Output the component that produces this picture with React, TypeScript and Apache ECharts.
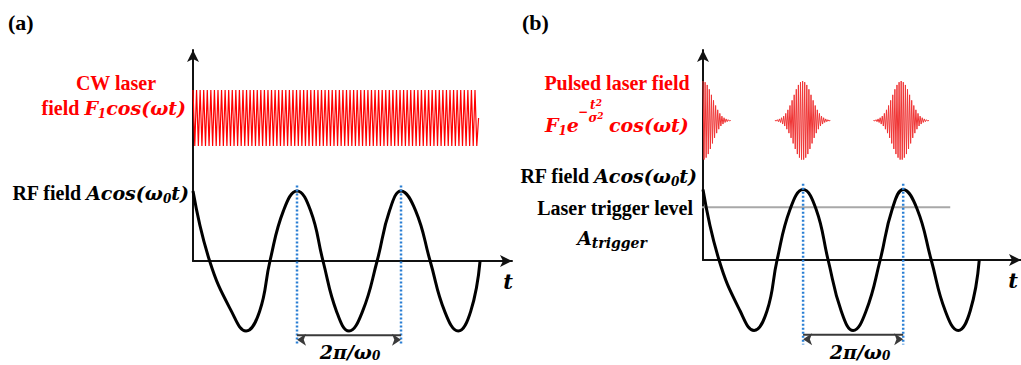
import React, { useEffect, useRef } from 'react';
import * as echarts from 'echarts';

// RF field A·cos(ω0 t): points (time in RF periods, value in units of A)
const rfTimes = [
  0, 0.16, 0.37, 0.51, 0.64, 0.74, 0.87, 1.0, 1.13, 1.25, 1.38, 1.5, 1.63,
  1.77, 1.89, 2.0, 2.14, 2.28, 2.42, 2.55, 2.67, 2.76,
];
const rfValues = [
  1, 0, -0.72, -1, -0.72, 0, 0.72, 1, 0.72, 0, -0.72, -1, -0.72,
  0, 0.72, 1, 0.72, 0, -0.72, -1, -0.72, 0,
];

// CW laser field: one extremum per half optical cycle, ending back at zero
const cwField = [
  1, -1, 1, -1, 1, -1, 1, -1, 1, -1, 1, -1, 1, -1, 1, -1, 1, -1, 1, -1,
  1, -1, 1, -1, 1, -1, 1, -1, 1, -1, 1, -1, 1, -1, 1, -1, 1, -1, 1, -1,
  1, -1, 1, -1, 1, -1, 1, -1, 1, -1, 1, -1, 1, -1, 1, -1, 1, -1, 1, -1,
  1, -1, 1, -1, 1, -1, 1, -1, 1, -1, 1, -1, 1, -1, 1, -1, 1, -1, 1, -1,
  1, -1, 1, -1, 1, -1, 1, -1, 1, -1, 1, -1, 1, -1, 1, -1, 1, -1, 1, -1,
  1, -1, 1, -1, 1, -1, 1, -1, 1, -1, 1, -1, 1, -1, 1, -1, 1, -1, 1, -1,
  1, -1, 1, -1, 1, -1, 1, -1, 1, -1, 1, -1, 1, -1, 1, -1, 1, -1, 1, -1,
  1, -1, 1, -1, 1, -1, 1, -1, 1, -1, 1, -1, 1, -1, 1, -1, 1, -1, 1, -1,
  0,
];
const cwHalfCycle = 0.01716; // RF periods per half optical cycle

// Pulsed laser field: envelope per half optical cycle, from the peak outward
const pulseEnvelope = [
  1.0, 0.99, 0.97, 0.94, 0.9, 0.85, 0.79, 0.72, 0.65, 0.58, 0.51, 0.44, 0.38,
  0.32, 0.27, 0.22, 0.18, 0.14, 0.11, 0.09, 0.07, 0.05, 0.04, 0.03, 0.02, 0.01,
];
const pulseCenters = [0, 0.995, 1.98];
const pulseHalfCycle = 0.0105;
const pulseTail = 0.277;

// Period markers, dimension arrow and trigger level
const periodMarks = [1, 2];
const markTop = 1.08;
const markBottom = -1.2;
const arrowLevel = -1.06;
const triggerLevel = 0.75;
const triggerSpan = [-0.05, 2.47];

const TEXT_FONT = 'Liberation Serif, Times New Roman, serif';
const MATH_FONT = 'DejaVu Serif, serif';
const RED = '#ff0000';
const BLACK = '#000000';

function richStyles(color: string) {
  const math = { fontFamily: MATH_FONT, fontWeight: 'bold', fontStyle: 'italic', fill: color };
  return {
    t: { fontFamily: TEXT_FONT, fontWeight: 'bold', fontSize: 20, fill: color, lineHeight: 24 },
    m: { ...math, fontSize: 19, lineHeight: 24 },
    s: { ...math, fontSize: 12, lineHeight: 12, verticalAlign: 'bottom' },
    q: { ...math, fontSize: 14, lineHeight: 14, verticalAlign: 'bottom' },
    p: { ...math, fontSize: 9, lineHeight: 9, verticalAlign: 'top' },
    e: { ...math, fontSize: 12, lineHeight: 13 },
    v: { ...math, fontSize: 21, lineHeight: 24 },
    n: { ...math, fontSize: 19, lineHeight: 20 },
    k: { ...math, fontSize: 12, lineHeight: 12, verticalAlign: 'bottom' },
  };
}

function label(text: string, x: number, y: number, color: string, align: string) {
  return {
    type: 'text',
    x,
    y,
    silent: true,
    style: {
      text,
      rich: richStyles(color),
      fill: color,
      align,
      verticalAlign: 'middle',
      textAlign: align,
      textVerticalAlign: 'middle',
    },
  };
}

function pulsePoints(center: number, withLeft: boolean) {
  const pts: number[][] = [];
  const n = pulseEnvelope.length;
  const extremum = (k: number) => pulseEnvelope[k] * (k % 2 === 0 ? 1 : -1);
  if (withLeft) {
    pts.push([center - pulseTail, 0]);
    for (let k = n - 1; k >= 1; k--) pts.push([center - k * pulseHalfCycle, extremum(k)]);
  }
  for (let k = 0; k < n; k++) pts.push([center + k * pulseHalfCycle, extremum(k)]);
  pts.push([center + pulseTail, 0]);
  return pts;
}

function axisPair(xMax: number, yMax: number, grid: number) {
  const line = { color: '#111', width: 2 };
  const common = {
    axisTick: { show: false }, axisLabel: { show: false }, splitLine: { show: false },
  };
  const x = {
    type: 'value', gridIndex: grid, min: 0, max: xMax, ...common,
    axisLine: { show: true, onZero: false, symbol: ['none', 'arrow'], symbolSize: [9, 12], lineStyle: line },
  };
  const y = {
    type: 'value', gridIndex: grid, min: 0, max: yMax, ...common,
    axisLine: { show: true, onZero: false, symbol: ['none', 'arrow'], symbolSize: [9, 12], lineStyle: line },
  };
  return { x, y };
}

function hiddenAxes(xMax: number, grid: number) {
  return {
    x: { type: 'value', gridIndex: grid, min: 0, max: xMax, show: false },
    y: { type: 'value', gridIndex: grid, min: -1, max: 1, show: false },
  };
}

function panelSeries(axisIdx: number) {
  const rf = rfTimes.map((t, i) => [t, rfValues[i]]);
  const list: any[] = [];
  list.push({
    type: 'line', xAxisIndex: axisIdx, yAxisIndex: axisIdx, data: rf,
    smooth: 0.45, showSymbol: false, clip: false, z: 3,
    lineStyle: { color: BLACK, width: 3 },
  });
  periodMarks.forEach((t) => {
    list.push({
      type: 'line', xAxisIndex: axisIdx, yAxisIndex: axisIdx,
      data: [[t, markTop], [t, markBottom]],
      showSymbol: false, clip: false, z: 4,
      lineStyle: { color: '#2a7fd4', width: 2.5, type: [2, 2] },
    });
  });
  list.push({
    type: 'line', xAxisIndex: axisIdx, yAxisIndex: axisIdx,
    data: [
      { value: [periodMarks[0], arrowLevel], symbolRotate: 90 },
      { value: [periodMarks[1], arrowLevel], symbolRotate: -90 },
    ],
    symbol: 'arrow', symbolSize: [9, 9], symbolOffset: [0, '50%'], showSymbol: true,
    clip: false, z: 5,
    itemStyle: { color: '#3a3a3a' },
    lineStyle: { color: '#3a3a3a', width: 2 },
  });
  return list;
}

export default function App() {
  const ref = useRef<HTMLDivElement>(null);

  useEffect(() => {
    if (!ref.current) return;
    const chart = echarts.init(ref.current, null, { renderer: 'svg' });

    const aMain = axisPair(3.067, 3.014, 0);
    const aCw = hiddenAxes(3.067, 1);
    const bMain = axisPair(3.177, 2.979, 2);
    const bPulse = hiddenAxes(3.177, 3);

    const cwData = cwField.map((v, i) => [i * cwHalfCycle, v]);

    const series: any[] = [
      ...panelSeries(0),
      {
        type: 'line', xAxisIndex: 1, yAxisIndex: 1, data: cwData,
        showSymbol: false, clip: false, z: 2,
        lineStyle: { color: RED, width: 1.2 },
      },
      {
        type: 'line', xAxisIndex: 2, yAxisIndex: 2,
        data: [[triggerSpan[0], triggerLevel], [triggerSpan[1], triggerLevel]],
        showSymbol: false, clip: false, z: 2,
        lineStyle: { color: '#a8a8a8', width: 2 },
      },
      ...panelSeries(2),
      ...pulseCenters.map((c, i) => ({
        type: 'line', xAxisIndex: 3, yAxisIndex: 3, data: pulsePoints(c, i > 0),
        showSymbol: false, clip: false, z: 2,
        lineStyle: { color: '#f03535', width: 1 },
      })),
    ];

    const panelTag = (text: string, x: number) => ({
      type: 'text', x, y: 22, silent: true,
      style: {
        text, fontFamily: TEXT_FONT, fontWeight: 'bold', fontSize: 22, fill: BLACK,
        align: 'left', verticalAlign: 'middle', textAlign: 'left', textVerticalAlign: 'middle',
      },
    });

    chart.setOption({
      animation: false,
      backgroundColor: '#ffffff',
      grid: [
        { left: 193, top: 50, width: 319, height: 211 },
        { left: 193, top: 90, width: 319, height: 56 },
        { left: 703, top: 50, width: 332, height: 210 },
        { left: 703, top: 81, width: 332, height: 79 },
      ],
      xAxis: [aMain.x, aCw.x, bMain.x, bPulse.x],
      yAxis: [aMain.y, aCw.y, bMain.y, bPulse.y],
      series,
      graphic: [
        panelTag('(a)', 8),
        panelTag('(b)', 522),
        // panel (a)
        label('{t|CW laser}', 116, 83, RED, 'center'),
        label('{t|field }{m|F}{s|1}{m|cos(ωt)}', 186, 108, RED, 'right'),
        label('{t|RF field }{m|Acos(ω}{s|0}{m|t)}', 189, 193, BLACK, 'right'),
        label('{v|t}', 508, 281, BLACK, 'center'),
        label('{n|2π/ω}{k|0}', 350, 352, BLACK, 'center'),
        // panel (b): F1 e^(-t²/σ²) cos(ωt)
        label('{t|Pulsed laser field}', 617, 83, RED, 'center'),
        label('{m|F}{s|1}{m|e}', 545, 125, RED, 'left'),
        label('{e|−}', 578, 112, RED, 'left'),
        label('{e|t}{p|2}\n{e|σ}{p|2}', 596, 111, RED, 'center'),
        label('{m|cos(ωt)}', 609, 125, RED, 'left'),
        label('{t|RF field }{m|Acos(ω}{s|0}{m|t)}', 697, 176, BLACK, 'right'),
        label('{t|Laser trigger level}', 693, 208, BLACK, 'right'),
        label('{m|A}{q|trigger}', 612, 238, BLACK, 'center'),
        label('{v|t}', 1013, 280, BLACK, 'center'),
        label('{n|2π/ω}{k|0}', 860, 352, BLACK, 'center'),
      ],
    });

    return () => chart.dispose();
  }, []);

  return (
    <div
      ref={ref}
      style={{ position: 'fixed', left: 0, top: 0, width: 1021, height: 365, background: '#fff' }}
    />
  );
}
